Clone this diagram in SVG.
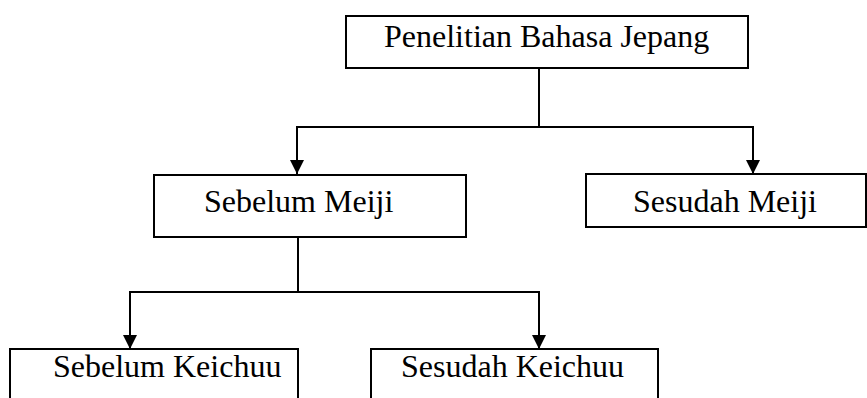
<svg xmlns="http://www.w3.org/2000/svg" width="867" height="398" viewBox="0 0 867 398">
<style>
.box{fill:#fff;stroke:#000;stroke-width:2}
.lbl{font-family:"Liberation Serif","Times New Roman",serif;font-size:32px;fill:#000}
.ln{fill:none;stroke:#000;stroke-width:2}
</style>
<defs>
<marker id="arr" viewBox="0 0 14 14" refX="14" refY="7" markerWidth="14" markerHeight="14" markerUnits="userSpaceOnUse" orient="auto">
<path d="M0,0 L14,7 L0,14 Z" fill="#000"/>
</marker>
</defs>
<rect width="867" height="398" fill="#fff"/>
<g id="connectors">
<path class="ln" d="M539,68 V127"/>
<path class="ln" d="M539,127 H297 V174" marker-end="url(#arr)"/>
<path class="ln" d="M539,127 H753 V174" marker-end="url(#arr)"/>
<path class="ln" d="M298,237 V292"/>
<path class="ln" d="M298,292 H130 V349" marker-end="url(#arr)"/>
<path class="ln" d="M298,292 H539 V349" marker-end="url(#arr)"/>
</g>
<g id="n-penelitian">
<rect class="box" x="346" y="16" width="402" height="52"/>
<text class="lbl" x="384" y="47">Penelitian Bahasa Jepang</text>
</g>
<g id="n-sebelum-meiji">
<rect class="box" x="154" y="175" width="312" height="62"/>
<text class="lbl" x="204" y="212">Sebelum Meiji</text>
</g>
<g id="n-sesudah-meiji">
<rect class="box" x="586" y="174" width="280" height="53"/>
<text class="lbl" x="633" y="212">Sesudah Meiji</text>
</g>
<g id="n-sebelum-keichuu">
<rect class="box" x="10" y="349" width="288" height="70"/>
<text class="lbl" x="53" y="377">Sebelum Keichuu</text>
</g>
<g id="n-sesudah-keichuu">
<rect class="box" x="371" y="349" width="287" height="70"/>
<text class="lbl" x="401" y="377">Sesudah Keichuu</text>
</g>
</svg>
